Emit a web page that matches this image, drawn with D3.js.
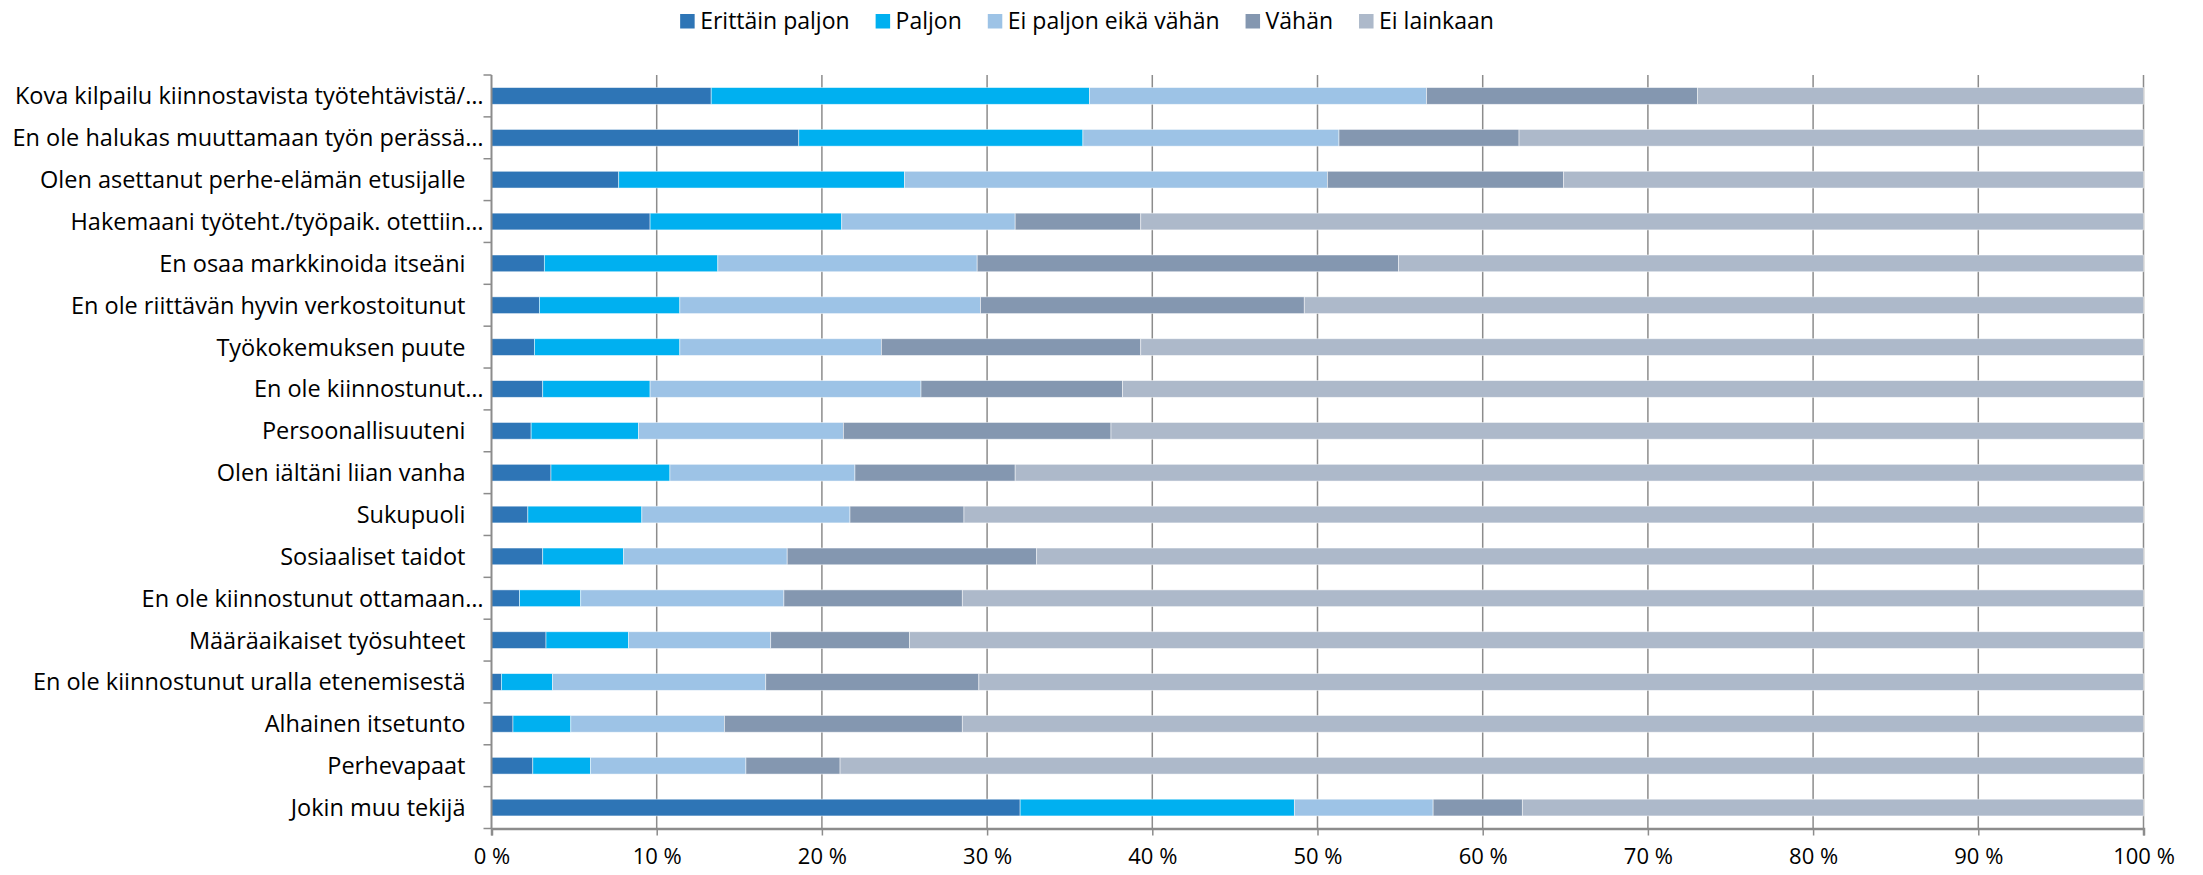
<!DOCTYPE html>
<html>
<head>
<meta charset="utf-8">
<script src="https://cdn.jsdelivr.net/npm/d3@7"></script>
<style>
  body { margin: 0; background: #fff; }
  text { font-family: "Open Sans", sans-serif; fill: #000; }
</style>
</head>
<body>
<div id="graph"></div>
<script>

// categories, top to bottom
const categories = [
  "Kova kilpailu kiinnostavista työtehtävistä/…",
  "En ole halukas muuttamaan työn perässä…",
  "Olen asettanut perhe-elämän etusijalle",
  "Hakemaani työteht./työpaik. otettiin…",
  "En osaa markkinoida itseäni",
  "En ole riittävän hyvin verkostoitunut",
  "Työkokemuksen puute",
  "En ole kiinnostunut…",
  "Persoonallisuuteni",
  "Olen iältäni liian vanha",
  "Sukupuoli",
  "Sosiaaliset taidot",
  "En ole kiinnostunut ottamaan…",
  "Määräaikaiset työsuhteet",
  "En ole kiinnostunut uralla etenemisestä",
  "Alhainen itsetunto",
  "Perhevapaat",
  "Jokin muu tekijä"
];

const seriesNames = ["Erittäin paljon", "Paljon", "Ei paljon eikä vähän", "Vähän", "Ei lainkaan"];
const seriesColors = ["#2e75b6", "#00b0f0", "#9dc3e6", "#8497b0", "#adb9ca"];

// shares (%) per category, same order as categories
const erittainPaljon = [13.3, 18.6, 7.7, 9.6, 3.2, 2.9, 2.6, 3.1, 2.4, 3.6, 2.2, 3.1, 1.7, 3.3, 0.6, 1.3, 2.5, 32.0];
const paljon         = [22.9, 17.2, 17.3, 11.6, 10.5, 8.5, 8.8, 6.5, 6.5, 7.2, 6.9, 4.9, 3.7, 5.0, 3.1, 3.5, 3.5, 16.6];
const eiPaljonEika   = [20.4, 15.5, 25.6, 10.5, 15.7, 18.2, 12.2, 16.4, 12.4, 11.2, 12.6, 9.9, 12.3, 8.6, 12.9, 9.3, 9.4, 8.4];
const vahan          = [16.4, 10.9, 14.3, 7.6, 25.5, 19.6, 15.7, 12.2, 16.2, 9.7, 6.9, 15.1, 10.8, 8.4, 12.9, 14.4, 5.7, 5.4];
const eiLainkaan     = [27.0, 37.8, 35.1, 60.7, 45.1, 50.8, 60.7, 61.8, 62.5, 68.3, 71.4, 67.0, 71.5, 74.7, 70.5, 71.5, 78.9, 37.6];

const xTicks = [0, 10, 20, 30, 40, 50, 60, 70, 80, 90, 100];

const w = 2203;
const h = 875;
const plotLeft = 491.5, plotRight = 2143.5, plotTop = 75, plotBottom = 828.5;

const seriesValues = [erittainPaljon, paljon, eiPaljonEika, vahan, eiLainkaan];
const rows = categories.map((c, i) => {
  const r = { name: c };
  seriesNames.forEach((s, j) => { r[s] = seriesValues[j][i]; });
  return r;
});

const stacked = d3.stack().keys(seriesNames)(rows);

const x = d3.scaleLinear().domain([0, 100]).range([plotLeft, plotRight]);
const y = d3.scaleBand().domain(categories).range([plotTop, plotBottom])
            .paddingInner(0.6).paddingOuter(0.3);
const color = d3.scaleOrdinal().domain(seriesNames).range(seriesColors);

const svg = d3.select("div#graph")
              .append("svg")
              .attr("width", w)
              .attr("height", h);

// vertical gridlines
svg.append("g")
   .selectAll("line")
   .data(xTicks.slice(1))
   .enter()
   .append("line")
   .attr("x1", d => x(d))
   .attr("x2", d => x(d))
   .attr("y1", plotTop)
   .attr("y2", plotBottom)
   .attr("stroke", "#8c8c8c")
   .attr("stroke-width", 1.5);

// bars
svg.append("g")
   .selectAll("g")
   .data(stacked)
   .enter()
   .append("g")
   .attr("fill", d => color(d.key))
   .selectAll("rect")
   .data(d => d)
   .enter()
   .append("rect")
   .attr("x", d => x(d[0]))
   .attr("y", d => y(d.data.name))
   .attr("width", d => x(d[1]) - x(d[0]))
   .attr("height", y.bandwidth())
   .attr("stroke", "#fff")
   .attr("stroke-opacity", 0.6)
   .attr("stroke-width", 0.8);

// x axis
const xAxis = svg.append("g")
   .attr("transform", "translate(0," + plotBottom + ")")
   .call(d3.axisBottom(x).tickValues(xTicks).tickSize(7).tickPadding(13)
           .tickFormat(d => d + " %"));
xAxis.select(".domain").attr("stroke", "#8c8c8c").attr("stroke-width", 2.5);
xAxis.selectAll(".tick line").attr("stroke", "#8c8c8c").attr("stroke-width", 1.5);
xAxis.selectAll(".tick text")
     .style("font-family", "'Open Sans', sans-serif")
     .style("font-size", "22px")
     .attr("fill", "#000");

// y axis: line + tick marks at band edges
const edges = categories.map(c => y(c) - y.step() * 0.3).concat([plotBottom]);
svg.append("line")
   .attr("x1", plotLeft).attr("x2", plotLeft)
   .attr("y1", plotTop).attr("y2", plotBottom)
   .attr("stroke", "#8c8c8c")
   .attr("stroke-width", 2);
svg.append("g")
   .selectAll("line")
   .data(edges)
   .enter()
   .append("line")
   .attr("x1", plotLeft - 8)
   .attr("x2", plotLeft)
   .attr("y1", d => d)
   .attr("y2", d => d)
   .attr("stroke", "#8c8c8c")
   .attr("stroke-width", 1.5);

// category labels
svg.append("g")
   .selectAll("text")
   .data(categories)
   .enter()
   .append("text")
   .attr("x", d => d.endsWith("…") ? plotLeft - 8 : plotLeft - 26)
   .attr("y", d => y(d) + y.bandwidth() / 2)
   .attr("dy", "0.36em")
   .style("text-anchor", "end")
   .style("font-size", "23.5px")
   .text(d => d);

// legend
const legend = svg.append("g");
const items = legend.selectAll("g")
   .data(seriesNames)
   .enter()
   .append("g");
items.append("rect")
   .attr("width", 14.5)
   .attr("height", 14.5)
   .attr("y", 14)
   .attr("fill", d => color(d));
items.append("text")
   .attr("x", 20)
   .attr("y", 28.5)
   .style("font-size", "23px")
   .text(d => d);

let pos = 0;
items.each(function () {
  d3.select(this).attr("transform", "translate(" + pos + ",0)");
  pos += 20 + this.querySelector("text").getComputedTextLength() + 26;
});
const legendWidth = pos - 26;
legend.attr("transform", "translate(" + (1087 - legendWidth / 2) + ",0)");

</script>
</body>
</html>
